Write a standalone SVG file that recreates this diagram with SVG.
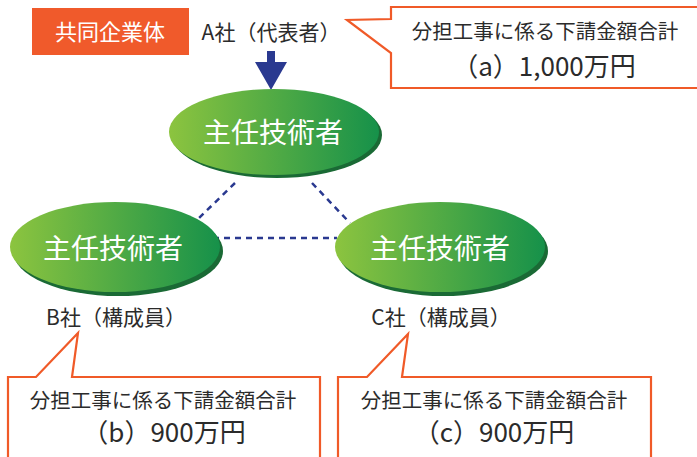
<svg xmlns="http://www.w3.org/2000/svg" width="697" height="457" viewBox="0 0 697 457">
<defs>
<linearGradient id="g" x1="0" y1="0" x2="1" y2="0">
<stop offset="0" stop-color="#8cc43f"/>
<stop offset="1" stop-color="#16914a"/>
</linearGradient>
<style>
.t{font-family:"Noto Sans CJK JP","Noto Sans",sans-serif;fill:#2b2b2b;text-anchor:middle}
.w{font-family:"Noto Sans CJK JP","Noto Sans",sans-serif;fill:#fff;text-anchor:middle}
.sh{fill:#1a6a35}
.el{fill:url(#g)}
.co{fill:#fff;stroke:#f05a28;stroke-width:2.2;stroke-linejoin:miter}
.dl{stroke:#2a3990;stroke-width:2.5;stroke-dasharray:6 5;fill:none}
</style>
</defs>
<rect width="697" height="457" fill="#fff"/>
<g id="jv-label">
<rect x="32" y="8" width="157" height="47" fill="#f05a2b"/>
<text class="w" x="110" y="40" font-size="22">共同企業体</text>
</g>
<g id="a-label"><text class="t" x="271" y="40" font-size="21">A社（代表者）</text></g>
<g id="connectors">
<path d="M267 51 H275 V62 H287 L271 90 L255 62 H267 Z" fill="#2a3990"/>
<line class="dl" x1="235" y1="183" x2="198" y2="219"/>
<line class="dl" x1="312" y1="183" x2="350" y2="223"/>
<line class="dl" x1="213" y1="238" x2="337" y2="238"/>
</g>
<g id="node-a">
<ellipse class="sh" cx="277" cy="135" rx="105" ry="43"/>
<ellipse class="el" cx="274" cy="132" rx="105" ry="43"/>
<text class="w" x="273" y="143" font-size="28">主任技術者</text>
</g>
<g id="node-b">
<ellipse class="sh" cx="118" cy="251" rx="105" ry="45"/>
<ellipse class="el" cx="115" cy="247" rx="105" ry="45"/>
<text class="w" x="113" y="259" font-size="28">主任技術者</text>
</g>
<g id="node-c">
<ellipse class="sh" cx="443" cy="251" rx="105" ry="45"/>
<ellipse class="el" cx="440" cy="247" rx="105" ry="45"/>
<text class="w" x="440" y="259" font-size="28">主任技術者</text>
</g>
<g id="b-label"><text class="t" x="116" y="325" font-size="21">B社（構成員）</text></g>
<g id="c-label"><text class="t" x="441" y="325" font-size="21">C社（構成員）</text></g>
<g id="callout-a">
<path class="co" d="M391 7 H705 V88 H391 V53 L347 20 L391 19 Z"/>
<text class="t" x="545" y="39" font-size="20.5">分担工事に係る下請金額合計</text>
<text class="t" x="544" y="76" font-size="26">（a）1,000万円</text>
</g>
<g id="callout-b">
<path class="co" d="M8 377 H36 L78 333 L72 377 H320 V465 H8 Z"/>
<text class="t" x="163" y="408" font-size="20.5">分担工事に係る下請金額合計</text>
<text class="t" x="164" y="442" font-size="26">（b）900万円</text>
</g>
<g id="callout-c">
<path class="co" d="M338 377 H367 L408 334 L402 377 H651 V465 H338 Z"/>
<text class="t" x="494" y="408" font-size="20.5">分担工事に係る下請金額合計</text>
<text class="t" x="494" y="442" font-size="26">（c）900万円</text>
</g>
</svg>
